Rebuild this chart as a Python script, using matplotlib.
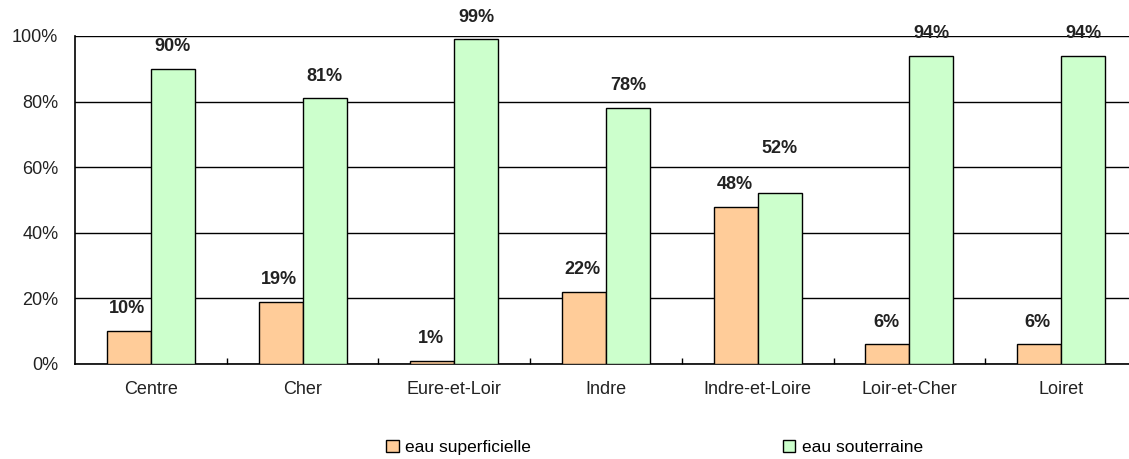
import matplotlib.pyplot as plt
import numpy as np
from matplotlib.ticker import FixedLocator

plt.rcParams['font.family'] = ['Liberation Sans', 'DejaVu Sans']

# Données : origine de l'eau potable par département
departements = ["Centre", "Cher", "Eure-et-Loir", "Indre", "Indre-et-Loire", "Loir-et-Cher", "Loiret"]
superficielle = [10, 19, 1, 22, 48, 6, 6]
souterraine = [90, 81, 99, 78, 52, 94, 94]

fig = plt.figure(figsize=(11.29, 4.59), dpi=100)
ax = fig.add_axes([75 / 1129, 1 - 364 / 459, 1062 / 1129, 328 / 459])

x = np.arange(len(departements))
w = 0.29
b1 = ax.bar(x - w / 2, superficielle, w, color="#FFCC99", edgecolor="black", linewidth=1.0,
            label="eau superficielle", zorder=3)
b2 = ax.bar(x + w / 2, souterraine, w, color="#CCFFCC", edgecolor="black", linewidth=1.0,
            label="eau souterraine", zorder=3)

# Étiquettes des valeurs (on remonte celle du haut quand les deux sont proches)
for xi, v1, v2 in zip(x, superficielle, souterraine):
    off1, off2 = 16, 16
    if abs(v1 - v2) < 10:
        if v2 >= v1:
            off2 = 32
        else:
            off1 = 32
    ax.annotate(f"{v1}%", (xi - w / 2, v1), xytext=(-1, off1), textcoords="offset points",
                ha="center", va="center", fontsize=13, fontweight="bold", color="#222222")
    ax.annotate(f"{v2}%", (xi + w / 2, v2), xytext=(0, off2), textcoords="offset points",
                ha="center", va="center", fontsize=13, fontweight="bold", color="#222222")

ax.set_xlim(-0.5, len(departements) - 0.5)
ax.set_ylim(0, 100)
ax.set_yticks(range(0, 101, 20))
ax.set_yticklabels([f"{t}%" for t in range(0, 101, 20)], fontsize=13, color="#222222")
ax.set_xticks(x)
ax.set_xticklabels(departements, fontsize=13, color="#222222")
ax.tick_params(axis="x", length=0, pad=12)
ax.tick_params(axis="y", length=0, pad=12)
ax.xaxis.set_minor_locator(FixedLocator(x[:-1] + 0.5))
ax.tick_params(axis="x", which="minor", direction="in", length=4, width=1, color="black")

ax.grid(axis="y", color="black", linewidth=1.0, zorder=0)
ax.set_axisbelow(True)
for s in ["top", "right"]:
    ax.spines[s].set_visible(False)
ax.spines["left"].set_linewidth(1.2)
ax.spines["bottom"].set_linewidth(1.2)

fig.legend(handles=[b1, b2], loc="center", bbox_to_anchor=(0.58, 0.025), ncol=2,
           frameon=False, fontsize=12.5, columnspacing=14.5, handlelength=0.7, handleheight=0.7,
           handletextpad=0.4)

fig.savefig("out.png", dpi=100)
